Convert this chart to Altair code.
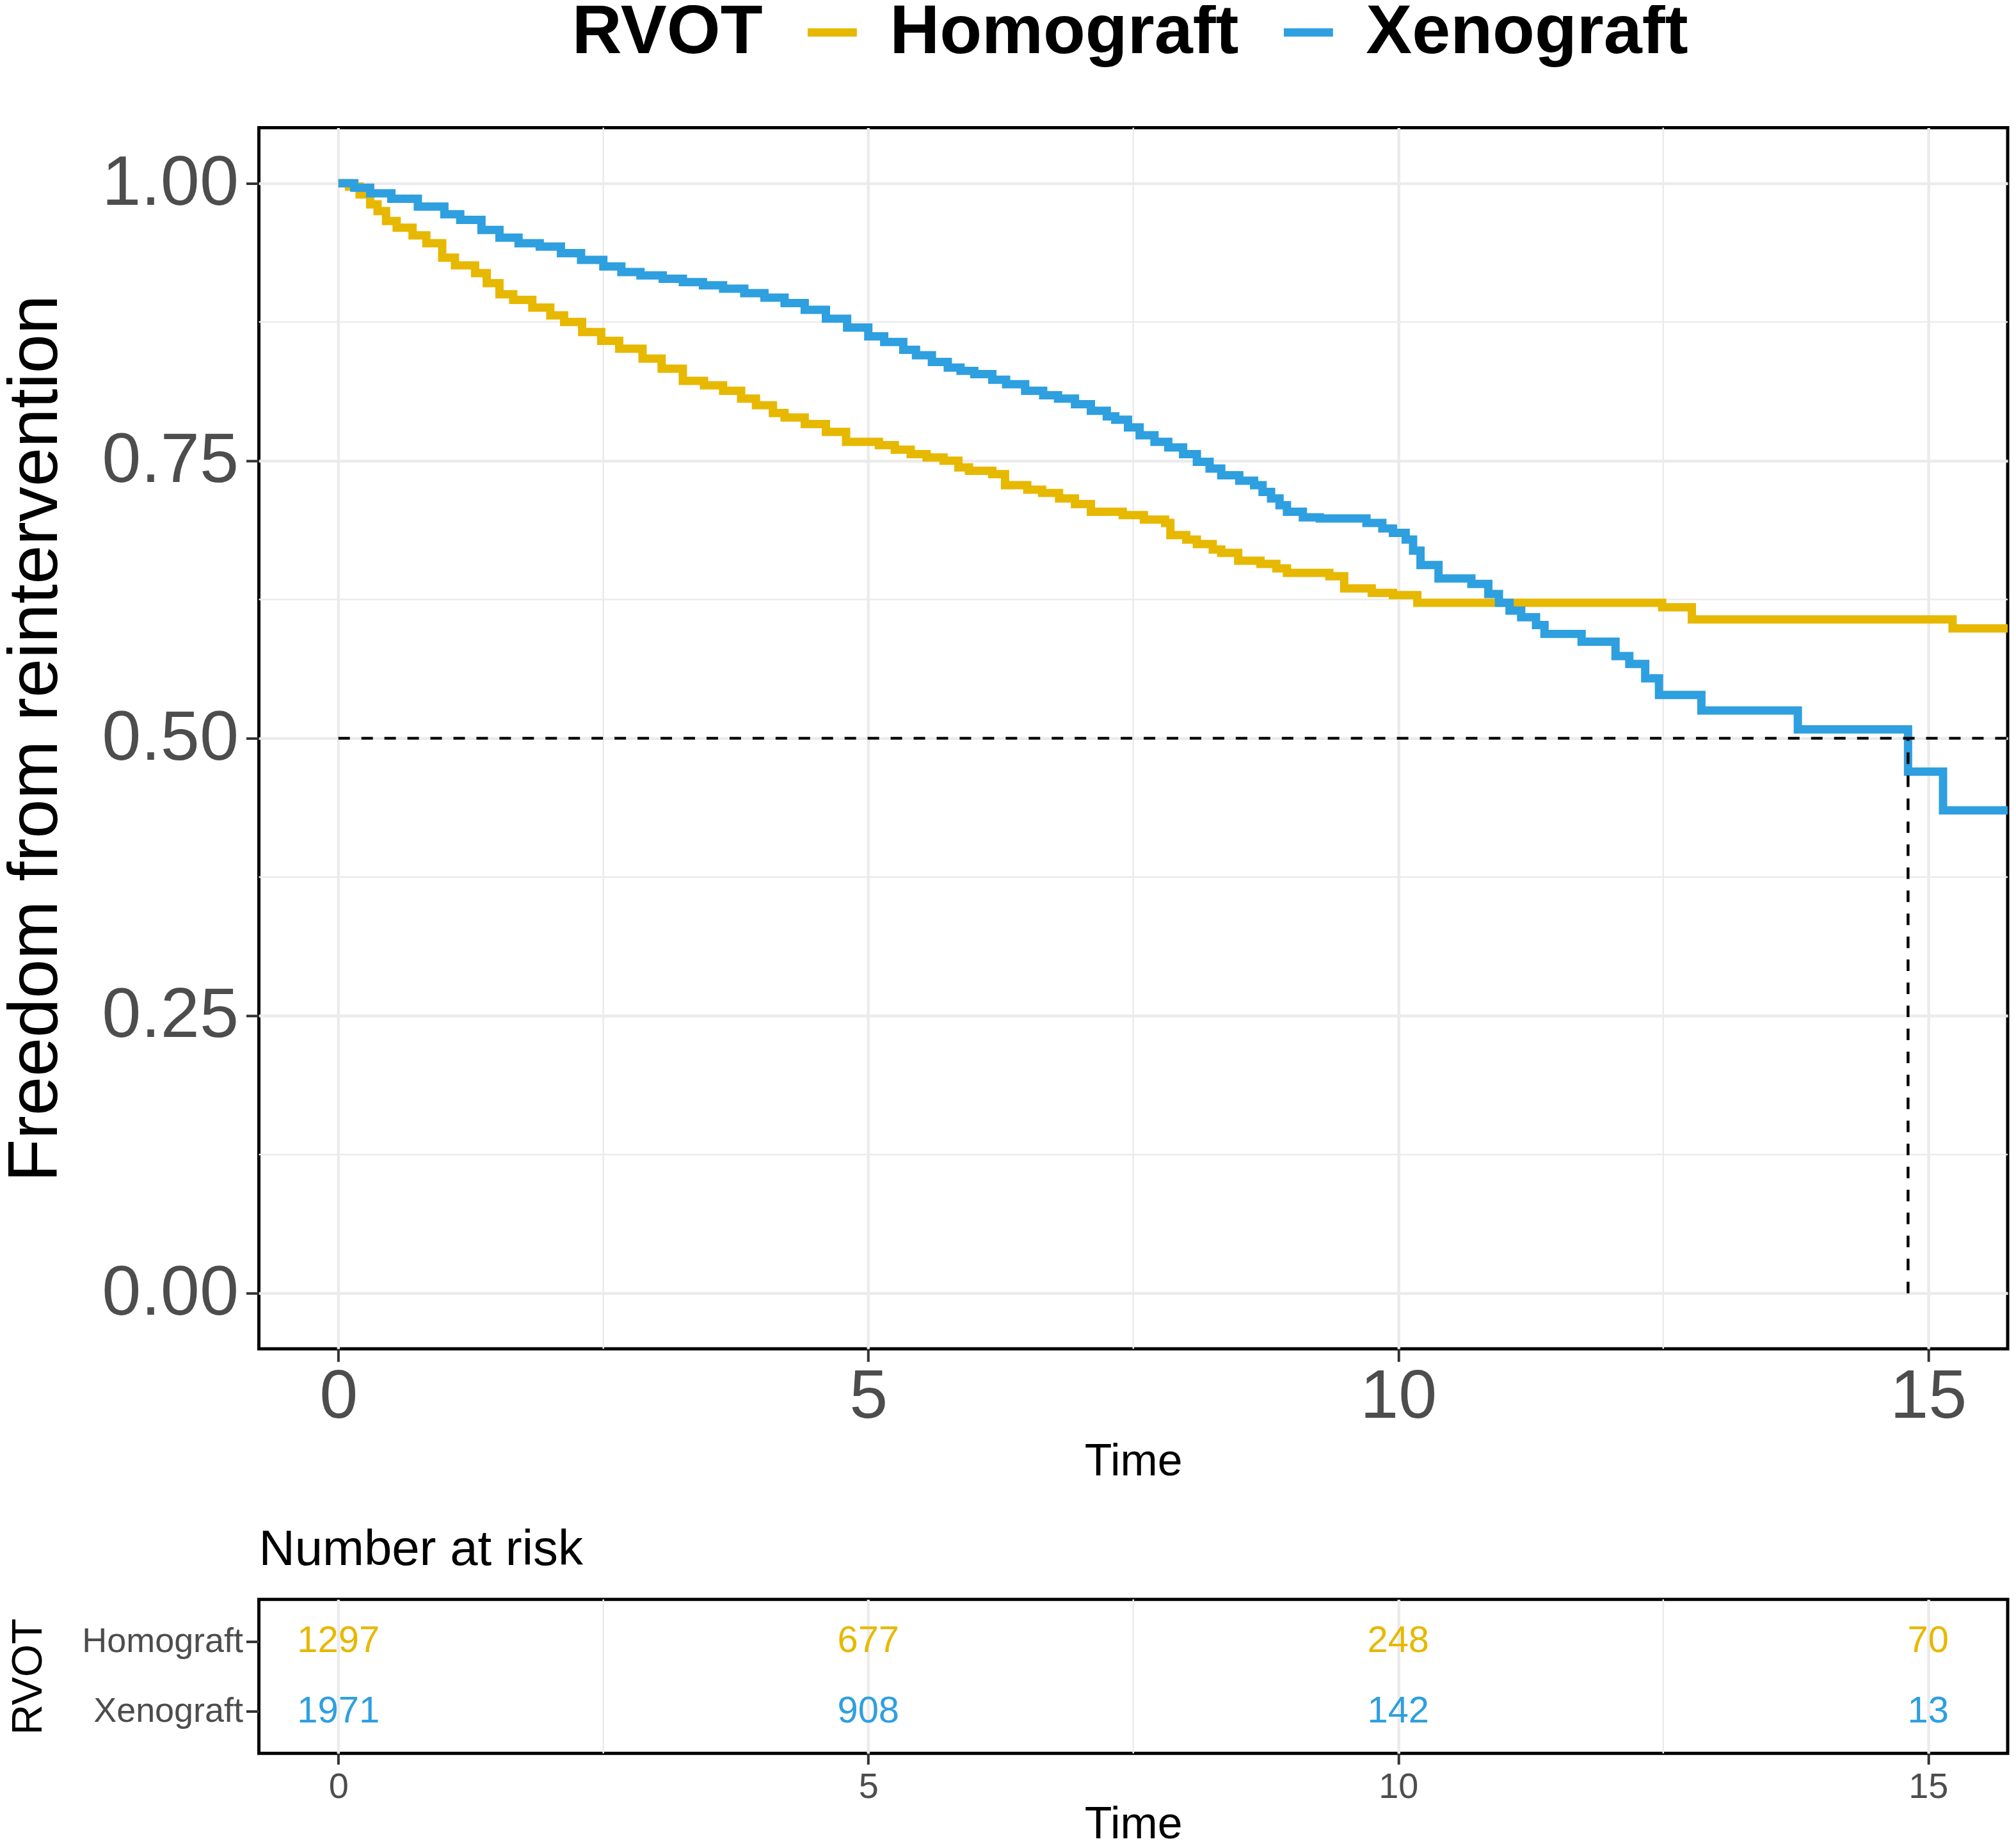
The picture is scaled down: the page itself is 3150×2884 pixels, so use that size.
import altair as alt
import pandas as pd

FONT = "Liberation Sans"

groups = ["Homograft", "Xenograft"]
group_colors = ["#E7B800", "#2E9FDF"]

homograft_time = [0.00, 0.10, 0.20, 0.30, 0.37, 0.45, 0.55, 0.70, 0.83, 0.98,
                  1.10, 1.29, 1.40, 1.52, 1.65, 1.83, 2.00, 2.13, 2.30, 2.48,
                  2.65, 2.87, 3.05, 3.25, 3.45, 3.63, 3.80, 3.94, 4.10, 4.21,
                  4.40, 4.60, 4.79, 5.10, 5.25, 5.40, 5.55, 5.71, 5.85, 5.95,
                  6.17, 6.29, 6.50, 6.64, 6.80, 6.95, 7.10, 7.40, 7.60, 7.80,
                  7.85, 8.00, 8.10, 8.25, 8.33, 8.49, 8.70, 8.85, 8.95, 9.35,
                  9.49, 9.75, 9.95, 10.18, 12.49, 12.77, 15.23, 15.75]
homograft_surv = [1.000, 0.997, 0.990, 0.981, 0.975, 0.966, 0.960, 0.953, 0.946, 0.933,
                  0.926, 0.919, 0.910, 0.900, 0.895, 0.888, 0.881, 0.875, 0.866, 0.858,
                  0.851, 0.842, 0.833, 0.822, 0.818, 0.813, 0.806, 0.800, 0.793, 0.789,
                  0.783, 0.776, 0.767, 0.764, 0.760, 0.756, 0.753, 0.750, 0.744, 0.741,
                  0.738, 0.728, 0.724, 0.721, 0.716, 0.711, 0.704, 0.701, 0.697, 0.694,
                  0.683, 0.679, 0.675, 0.670, 0.667, 0.660, 0.657, 0.653, 0.649, 0.646,
                  0.635, 0.631, 0.629, 0.622, 0.618, 0.607, 0.599, 0.599]

xenograft_time = [0.00, 0.15, 0.30, 0.50, 0.75, 1.00, 1.15, 1.35, 1.52, 1.70,
                  1.90, 2.10, 2.29, 2.50, 2.67, 2.85, 3.06, 3.25, 3.44, 3.63,
                  3.83, 4.02, 4.21, 4.40, 4.60, 4.80, 5.00, 5.15, 5.33, 5.45,
                  5.60, 5.75, 5.87, 6.00, 6.17, 6.30, 6.48, 6.65, 6.79, 6.95,
                  7.10, 7.25, 7.33, 7.45, 7.56, 7.70, 7.83, 7.97, 8.10, 8.22,
                  8.33, 8.50, 8.64, 8.72, 8.80, 8.88, 8.95, 9.10, 9.26, 9.70,
                  9.85, 9.95, 10.07, 10.14, 10.21, 10.38, 10.69, 10.85, 10.95, 11.05,
                  11.16, 11.30, 11.38, 11.73, 12.05, 12.18, 12.33, 12.46, 12.86, 13.77,
                  14.81, 15.14, 15.75]
xenograft_surv = [1.000, 0.996, 0.991, 0.986, 0.979, 0.972, 0.967, 0.958, 0.951, 0.946,
                  0.943, 0.937, 0.931, 0.925, 0.920, 0.917, 0.914, 0.911, 0.908, 0.905,
                  0.901, 0.897, 0.892, 0.886, 0.878, 0.870, 0.862, 0.857, 0.850, 0.845,
                  0.839, 0.834, 0.831, 0.828, 0.823, 0.819, 0.813, 0.809, 0.806, 0.801,
                  0.795, 0.790, 0.787, 0.780, 0.773, 0.767, 0.762, 0.756, 0.749, 0.743,
                  0.737, 0.732, 0.728, 0.722, 0.716, 0.710, 0.704, 0.699, 0.698, 0.694,
                  0.689, 0.685, 0.679, 0.669, 0.656, 0.644, 0.639, 0.630, 0.622, 0.615,
                  0.609, 0.602, 0.594, 0.587, 0.574, 0.567, 0.554, 0.539, 0.525, 0.508,
                  0.470, 0.435, 0.435]

risk_times = [0, 5, 10, 15]
homograft_risk = [1297, 677, 248, 70]
xenograft_risk = [1971, 908, 142, 13]

median_time = 14.81
median_surv = 0.5

x_ticks = [0, 5, 10, 15]
x_minor = [2.5, 7.5, 12.5]
y_ticks = [0.0, 0.25, 0.5, 0.75, 1.0]
y_minor = [0.125, 0.375, 0.625, 0.875]
x_domain = [-0.75, 15.75]
y_domain = [-0.05, 1.05]

# ---- tables built from the arrays ----
rows = []
for g, ts, ss in [("Homograft", homograft_time, homograft_surv),
                  ("Xenograft", xenograft_time, xenograft_surv)]:
    for t, s in zip(ts, ss):
        rows.append({"group": g, "t": t, "s": s})
curve_df = pd.DataFrame(rows)

risk_rows = []
for g, ns in [("Homograft", homograft_risk), ("Xenograft", xenograft_risk)]:
    for t, n in zip(risk_times, ns):
        risk_rows.append({"group": g, "t": t, "n": n})
risk_df = pd.DataFrame(risk_rows)

hline_df = pd.DataFrame({"x0": [0.0], "x1": [x_domain[1]], "y": [median_surv]})
vline_df = pd.DataFrame({"x": [median_time], "y0": [0.0], "y1": [median_surv]})
xminor_df = pd.DataFrame({"t": x_minor})
yminor_df = pd.DataFrame({"s": y_minor})

W = 2736
H_MAIN = 1910
H_RISK = 241

GRID = "#EBEBEB"
TICK = "#333333"
LABEL = "#4D4D4D"

xscale = alt.Scale(domain=x_domain, nice=False, zero=False)
yscale = alt.Scale(domain=y_domain, nice=False, zero=False)
cscale = alt.Scale(domain=groups, range=group_colors)

x_axis_main = alt.Axis(values=x_ticks, format="d", title="Time", titleFontSize=70,
                       titleFontWeight="normal", titleColor="black",
                       titleY=198, titleBaseline="alphabetic",
                       labelFontSize=108, labelColor=LABEL, labelPadding=2,
                       tickSize=20, tickWidth=4, tickColor=TICK, domain=False,
                       gridColor=GRID, gridWidth=4.5, labelOverlap=False)
y_axis_main = alt.Axis(values=y_ticks, format=".2f", title="Freedom from reintervention",
                       titleFontSize=110, titleFontWeight="normal", titleColor="black",
                       titleX=-316, titleBaseline="alphabetic", titleLimit=3000,
                       labelFontSize=110, labelColor=LABEL, labelPadding=12,
                       labelLimit=1000,
                       tickSize=20, tickWidth=4, tickColor=TICK, domain=False,
                       gridColor=GRID, gridWidth=4.5, labelOverlap=False)

legend = alt.Legend(title="RVOT", orient="none", legendX=490, legendY=-203,
                    direction="horizontal", titleOrient="left",
                    titleFontSize=108, titleFontWeight="bold", titleColor="black",
                    labelFontSize=108, labelFontWeight="bold", labelColor="black",
                    labelLimit=2000, titleLimit=2000,
                    symbolType="stroke", symbolSize=5929, symbolStrokeWidth=13,
                    labelOffset=36, columnPadding=44, titlePadding=54, padding=0)

minor_x = alt.Chart(xminor_df).mark_rule(color=GRID, strokeWidth=2.5).encode(
    x=alt.X("t:Q", scale=xscale, axis=x_axis_main))
minor_y = alt.Chart(yminor_df).mark_rule(color=GRID, strokeWidth=2.5).encode(
    y=alt.Y("s:Q", scale=yscale, axis=y_axis_main))

curves = alt.Chart(curve_df).mark_line(interpolate="step-after", strokeWidth=13, clip=True).encode(
    x=alt.X("t:Q", scale=xscale, axis=x_axis_main),
    y=alt.Y("s:Q", scale=yscale, axis=y_axis_main),
    color=alt.Color("group:N", scale=cscale, legend=legend),
)

hline = alt.Chart(hline_df).mark_rule(color="black", strokeWidth=4.5, strokeDash=[18, 18]).encode(
    x=alt.X("x0:Q", scale=xscale, axis=x_axis_main), x2="x1:Q",
    y=alt.Y("y:Q", scale=yscale, axis=y_axis_main))
vline = alt.Chart(vline_df).mark_rule(color="black", strokeWidth=4.5, strokeDash=[18, 18]).encode(
    x=alt.X("x:Q", scale=xscale, axis=x_axis_main),
    y=alt.Y("y0:Q", scale=yscale, axis=y_axis_main), y2="y1:Q")

main = alt.layer(minor_x, minor_y, curves, hline, vline).properties(width=W, height=H_MAIN)

# ---- risk table ----
xscale_r = alt.Scale(domain=x_domain, nice=False, zero=False)
x_axis_risk = alt.Axis(values=x_ticks, format="d", title="Time", titleFontSize=70,
                       titleFontWeight="normal", titleColor="black",
                       titleY=132, titleBaseline="alphabetic",
                       labelFontSize=56, labelColor=LABEL, labelPadding=8,
                       tickSize=17, tickWidth=4, tickColor=TICK, domain=False,
                       gridColor=GRID, gridWidth=4.5, labelOverlap=False)
y_axis_risk = alt.Axis(title="RVOT", titleFontSize=66, titleFontWeight="normal",
                       titleColor="black", titleX=-340, titleBaseline="alphabetic",
                       labelFontSize=54, labelColor=LABEL, labelPadding=5, labelLimit=2000,
                       tickSize=20, tickWidth=4, tickColor=TICK, domain=False,
                       gridColor=GRID, gridWidth=4.5)

risk_minor = alt.Chart(xminor_df).mark_rule(color=GRID, strokeWidth=2.5).encode(
    x=alt.X("t:Q", scale=xscale_r, axis=x_axis_risk))
risk_text = alt.Chart(risk_df).mark_text(fontSize=58, font=FONT).encode(
    x=alt.X("t:Q", scale=xscale_r, axis=x_axis_risk),
    y=alt.Y("group:N", scale=alt.Scale(type="point", domain=groups, padding=0.6),
            axis=y_axis_risk),
    text=alt.Text("n:Q"),
    color=alt.Color("group:N", scale=cscale, legend=None),
)

risk = alt.layer(risk_minor, risk_text).properties(
    width=W, height=H_RISK,
    title=alt.TitleParams("Number at risk", anchor="start", fontSize=78,
                          fontWeight="normal", color="black", font=FONT,
                          offset=36, frame="group"),
)

chart = alt.vconcat(main, risk, spacing=59).resolve_scale(
    color="independent", x="independent", y="independent"
).resolve_legend(color="independent").properties(
    padding={"left": -10, "top": -16, "right": 0, "bottom": 0}
).configure(
    font=FONT
).configure_view(stroke="black", strokeWidth=5)

chart.save("out.html", embed_options={"renderer": "svg", "actions": False})
